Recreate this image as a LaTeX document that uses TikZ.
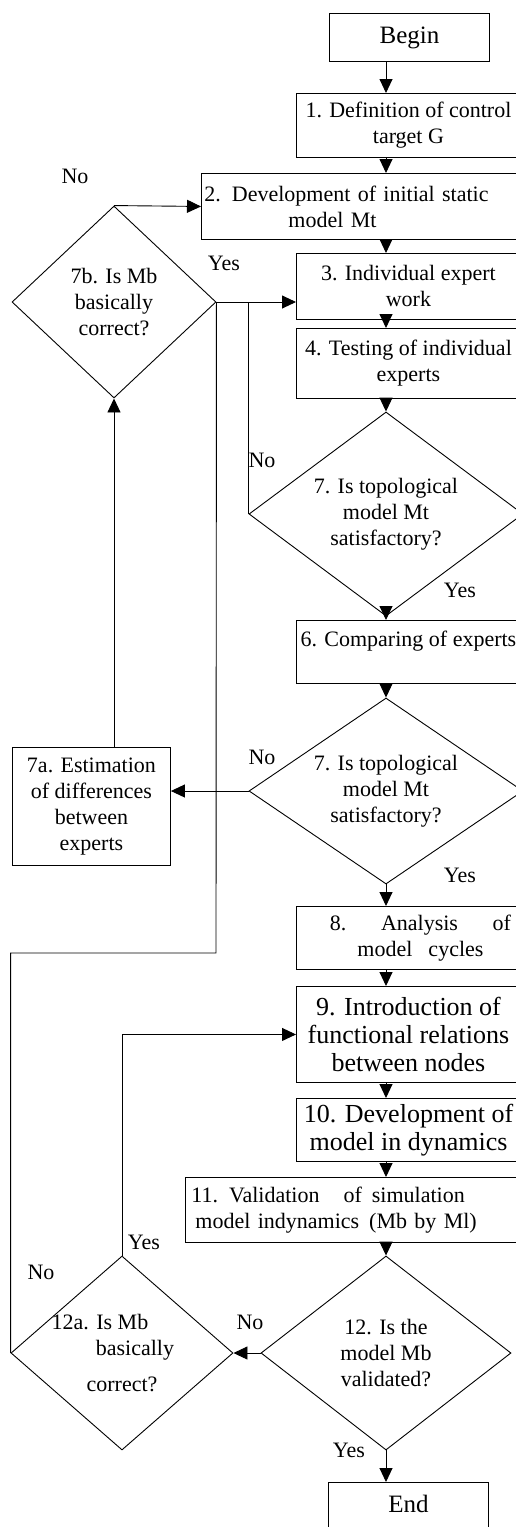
\documentclass[tikz,border=0pt]{standalone}
\usepackage{fontspec}
\setmainfont{Liberation Serif}
\usetikzlibrary{shapes.geometric,arrows.meta}

\newcommand{\flowfont}{\fontsize{22}{26}\selectfont}
\newcommand{\largeflowfont}{\fontsize{26}{28}\selectfont}
\newcommand{\termfont}{\fontsize{25}{28}\selectfont}

\tikzset{
  box/.style={draw, rectangle, anchor=north west, inner xsep=2pt, inner ysep=0pt, align=center, line width=0.9pt},
  decision/.style={draw, diamond, inner sep=0pt, align=center, line width=0.9pt},
  arr/.style={-{Triangle[length=14pt,width=13pt]}, line width=0.9pt},
  link/.style={line width=0.9pt},
  answer/.style={inner sep=0pt}
}

\begin{document}
\begin{tikzpicture}[x=1pt, y=-1pt, font=\flowfont]
        \useasboundingbox (0,0) rectangle (515,1527);
        \coordinate (col) at (386,0);

        % Main column of steps
        \node[box, minimum width=160, minimum height=48, font=\termfont] (start) at (329,13) {Begin};
        \node[box, minimum width=224, minimum height=64] (b1) at (296,93) {1. Definition of control\\target G};
        \node[box, minimum height=66, inner xsep=0pt, text width=320pt, align=left] (b2) at (201,173)
            {\makebox[290pt]{2. Development of initial static}\\\makebox[262pt]{model Mt}};
        \node[box, minimum width=224, minimum height=66] (b3) at (296,253) {3. Individual expert\\work};
        \node[box, minimum width=224, minimum height=70] (b4) at (296,328) {4. Testing of individual\\experts};
        \node[decision, minimum width=274, minimum height=204, aspect=1.34] (d1) at (386,514)
            {7. Is topological\\model Mt\\satisfactory?};
        \node[box, minimum width=224, minimum height=63] (b6) at (296,620) {6. Comparing of experts\\\mbox{}};
        \node[decision, minimum width=274, minimum height=186, aspect=1.47] (d2) at (386,791)
            {7. Is topological\\model Mt\\satisfactory?};
        \node[box, minimum width=248, minimum height=63] (b8) at (296,906)
            {\makebox[181pt]{8.\hfill Analysis\hfill of}\\\makebox[126pt]{model\hfill cycles}};
        \node[box, minimum width=224, minimum height=96, font=\largeflowfont] (b9) at (296,986)
            {9. Introduction of\\functional relations\\between nodes};
        \node[box, minimum width=224, minimum height=63, font=\largeflowfont] (b10) at (296,1098)
            {10. Development of\\model in dynamics};
        \node[box, minimum height=65, inner xsep=6pt, text width=330pt, align=left] (b11) at (185,1177)
            {11. Validation\hspace{24pt}of\hspace{10pt}simulation\\\hspace*{4pt}model indynamics\hspace{10pt}(Mb by Ml)};
        \node[decision, minimum width=250, minimum height=194, aspect=1.29] (d12) at (386,1353)
            {12. Is the\\model Mb\\validated?};
        \node[box, minimum width=160, minimum height=70, font=\termfont] (stop) at (328,1482) {End\\\mbox{}};

        % Side steps
        \node[decision, minimum width=204, minimum height=192, aspect=1.06] (d7b) at (114,302)
            {7b. Is Mb\\basically\\correct?};
        \node[box, minimum width=158, minimum height=118] (b7a) at (12,747)
            {7a. Estimation\\of differences\\between\\experts};
        \node[decision, minimum width=222, minimum height=194, aspect=1.14] (d12a) at (122,1353)
            {\hspace*{-44pt}12a. Is Mb\\\hspace*{26pt}basically\\[10pt]correct?};

        % Arrows down the main column
        \foreach \a/\b in {start/b1, b1/b2, b2/b3, b3/b4, b4/d1, d1/b6, b6/d2, d2/b8, b8/b9, b9/b10, b10/b11, b11/d12, d12/stop}{
            \draw[arr] (\a.south -| col) -- (\b.north -| col);
        }

        % Loops back
        \coordinate (j1) at (216,953);
        \draw[arr] (d7b.north) -- (b2.west);
        \draw[arr] (d7b.east) -- (d7b.east -| b3.west);
        \draw[link] (d1.west) -- (d1.west |- d7b.east);
        \draw[arr] (d2.west) -- (d2.west -| b7a.east);
        \draw[arr] (b7a.north -| d7b.south) -- (d7b.south);
        \draw[arr] (d12.west) -- (d12a.east);
        \draw[arr] (d12a.north) |- (b9.west);
        \draw[link] (d12a.west) |- (j1) -- (d7b.east);

        % Answers
        \node[answer] (no7b) at (75,176) {No};
        \node[answer] (yes7b) at (224,263) {Yes};
        \node[answer] (no1) at (262,460) {No};
        \node[answer] (yes1) at (460,590) {Yes};
        \node[answer] (no2) at (262,757) {No};
        \node[answer] (yes2) at (460,875) {Yes};
        \node[answer] (yes12a) at (144,1242) {Yes};
        \node[answer] (no12a) at (41,1272) {No};
        \node[answer] (no12) at (250,1322) {No};
        \node[answer] (yes12) at (349,1450) {Yes};
    \end{tikzpicture}
\end{document}
